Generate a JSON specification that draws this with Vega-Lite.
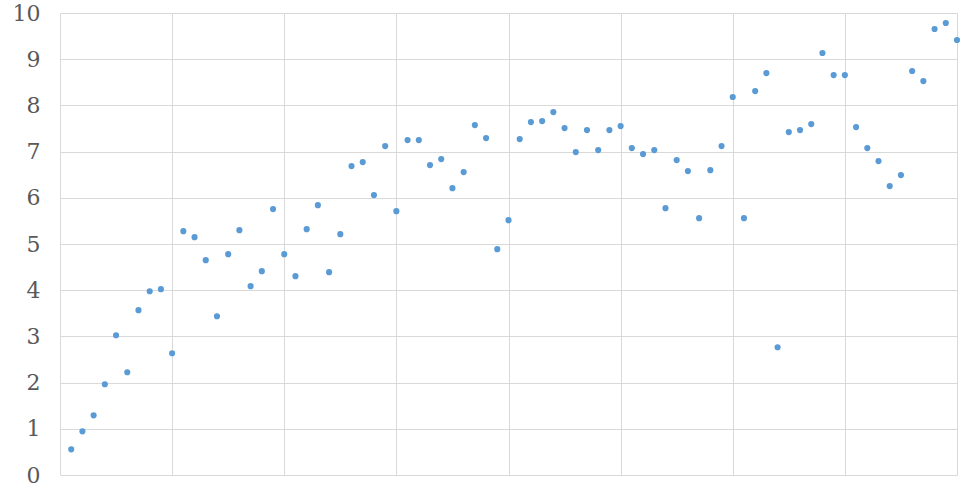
{
  "$schema": "https://vega.github.io/schema/vega-lite/v6.json",
  "width": 897,
  "height": 462,
  "autosize": "none",
  "padding": {"left": 60, "top": 13, "right": 11, "bottom": 14},
  "background": "white",
  "config": {"view": {"stroke": null}},
  "data": {"values": [
    {"i":1,"v":0.556},{"i":2,"v":0.946},{"i":3,"v":1.292},{"i":4,"v":1.964},{"i":5,"v":3.025},
    {"i":6,"v":2.224},{"i":7,"v":3.567},{"i":8,"v":3.978},{"i":9,"v":4.022},{"i":10,"v":2.635},
    {"i":11,"v":5.278},{"i":12,"v":5.148},{"i":13,"v":4.650},{"i":14,"v":3.437},{"i":15,"v":4.780},
    {"i":16,"v":5.300},{"i":17,"v":4.087},{"i":18,"v":4.412},{"i":19,"v":5.755},{"i":20,"v":4.780},
    {"i":21,"v":4.303},{"i":22,"v":5.321},{"i":23,"v":5.841},{"i":24,"v":4.390},{"i":25,"v":5.213},
    {"i":26,"v":6.686},{"i":27,"v":6.773},{"i":28,"v":6.058},{"i":29,"v":7.119},{"i":30,"v":5.711},
    {"i":31,"v":7.249},{"i":32,"v":7.249},{"i":33,"v":6.708},{"i":34,"v":6.838},{"i":35,"v":6.209},
    {"i":36,"v":6.556},{"i":37,"v":7.574},{"i":38,"v":7.292},{"i":39,"v":4.888},{"i":40,"v":5.516},
    {"i":41,"v":7.271},{"i":42,"v":7.639},{"i":43,"v":7.661},{"i":44,"v":7.856},{"i":45,"v":7.509},
    {"i":46,"v":6.989},{"i":47,"v":7.466},{"i":48,"v":7.032},{"i":49,"v":7.466},{"i":50,"v":7.552},
    {"i":51,"v":7.076},{"i":52,"v":6.946},{"i":53,"v":7.032},{"i":54,"v":5.776},{"i":55,"v":6.816},
    {"i":56,"v":6.578},{"i":57,"v":5.560},{"i":58,"v":6.599},{"i":59,"v":7.119},{"i":60,"v":8.181},
    {"i":61,"v":5.560},{"i":62,"v":8.310},{"i":63,"v":8.700},{"i":64,"v":2.765},{"i":65,"v":7.422},
    {"i":66,"v":7.466},{"i":67,"v":7.596},{"i":68,"v":9.134},{"i":69,"v":8.657},{"i":70,"v":8.657},
    {"i":71,"v":7.531},{"i":72,"v":7.076},{"i":73,"v":6.794},{"i":74,"v":6.253},{"i":75,"v":6.491},
    {"i":76,"v":8.744},{"i":77,"v":8.527},{"i":78,"v":9.653},{"i":79,"v":9.783},{"i":80,"v":9.415}
  ]},
  "mark": {"type": "circle", "color": "#5B9BD5", "opacity": 1, "size": 38},
  "encoding": {
    "x": {
      "field": "i", "type": "quantitative",
      "scale": {"domain": [0, 80], "nice": false, "zero": true},
      "axis": {"title": null, "labels": false, "ticks": false, "domain": false, "grid": true,
               "values": [0,10,20,30,40,50,60,70,80], "gridColor": "#D9D9D9", "gridWidth": 1}
    },
    "y": {
      "field": "v", "type": "quantitative",
      "scale": {"domain": [0, 10], "nice": false},
      "axis": {"title": null, "ticks": false, "domain": false, "grid": true,
               "values": [0,1,2,3,4,5,6,7,8,9,10], "gridColor": "#D9D9D9", "gridWidth": 1,
               "labelFont": "DejaVu Serif", "labelFontSize": 22, "labelColor": "#595959",
               "labelPadding": 20, "labelFlush": false}
    }
  }
}
